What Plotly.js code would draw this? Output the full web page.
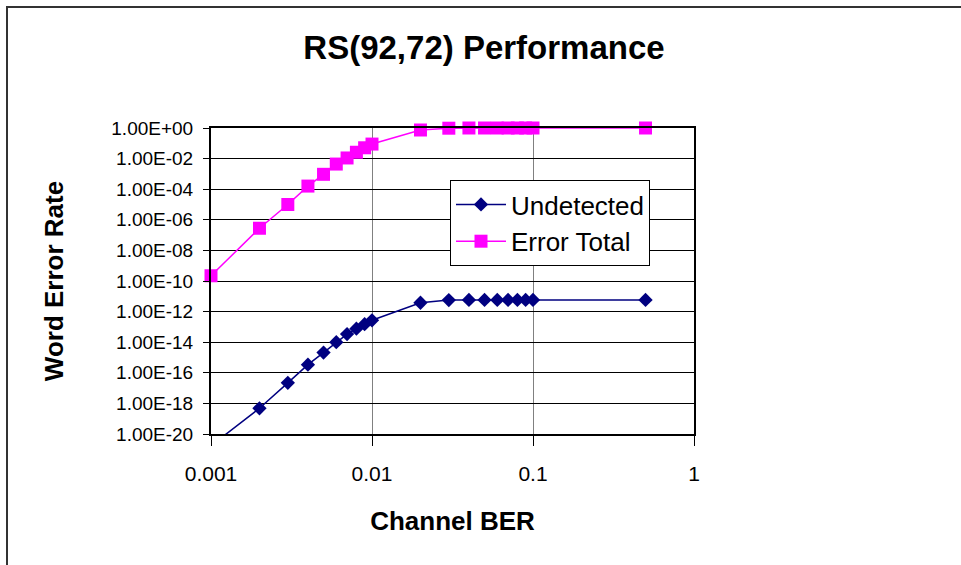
<!DOCTYPE html>
<html>
<head>
<meta charset="utf-8">
<script src="https://cdn.plot.ly/plotly-3.0.1.min.js"></script>
<style>
html,body{margin:0;padding:0;background:#fff;}
#chart{width:961px;height:565px;}
</style>
</head>
<body>
<div id="chart"></div>
<script>
var channelBER = [0.001, 0.002, 0.003, 0.004, 0.005, 0.006, 0.007, 0.008, 0.009, 0.01, 0.02, 0.03, 0.04, 0.05, 0.06, 0.07, 0.08, 0.09, 0.1, 0.5];
var undetected = [1.7e-21, 4.8e-19, 2.2e-17, 3.4e-16, 2.1e-15, 1.0e-14, 3.4e-14, 7.6e-14, 1.5e-13, 2.7e-13, 3.8e-12, 5.7e-12, 5.8e-12, 5.8e-12, 5.8e-12, 5.8e-12, 5.8e-12, 5.8e-12, 5.8e-12, 5.8e-12];
var errorTotal = [2.2e-10, 2.8e-7, 1.0e-5, 1.6e-4, 9.4e-4, 4.4e-3, 1.1e-2, 2.6e-2, 5.1e-2, 8.9e-2, 0.74, 0.97, 1, 1, 1, 1, 1, 1, 1, 1];
var yTickVals = [1e0, 1e-2, 1e-4, 1e-6, 1e-8, 1e-10, 1e-12, 1e-14, 1e-16, 1e-18, 1e-20];
var yTickText = ["1.00E+00", "1.00E-02", "1.00E-04", "1.00E-06", "1.00E-08", "1.00E-10", "1.00E-12", "1.00E-14", "1.00E-16", "1.00E-18", "1.00E-20"];
var xTickVals = [0.001, 0.01, 0.1, 1];
var xTickText = ["0.001", "0.01", "0.1", "1"];

var traces = [
  {x: channelBER, y: undetected, name: "Undetected", type: "scatter", mode: "lines+markers",
   line: {color: "#000080", width: 1.5}, marker: {symbol: "diamond", size: 11, color: "#000080"}},
  {x: channelBER, y: errorTotal, name: "Error Total", type: "scatter", mode: "lines+markers",
   line: {color: "#FF00FF", width: 1.5}, marker: {symbol: "square", size: 13, color: "#FF00FF"}, cliponaxis: false}
];

var L = 211, R = 267, T = 128, B = 131;
var pw = 961 - L - R, ph = 565 - T - B;
function px(xp){ return (xp - L) / pw; }
function py(yp){ return (565 - B - yp) / ph; }

var layout = {
  width: 961, height: 565,
  margin: {l: L, r: R, t: T, b: B},
  paper_bgcolor: "#fff", plot_bgcolor: "#fff",
  font: {family: "Arial, Liberation Sans, sans-serif", color: "#000", size: 19},
  title: {text: "<b>RS(92,72) Performance</b>", font: {size: 33, family: "Arial, Liberation Sans, sans-serif"},
          x: px(484), xref: "paper", xanchor: "center", y: 1 - 47/565, yanchor: "middle"},
  xaxis: {type: "log", range: [-3, 0], tickvals: xTickVals, ticktext: xTickText,
          showgrid: true, gridcolor: "#808080", gridwidth: 1,
          ticks: "outside", ticklen: 10, tickcolor: "#000", tickwidth: 1, ticklabelstandoff: 10,
          showline: true, linecolor: "#000", linewidth: 2, mirror: true,
          tickfont: {size: 21}, zeroline: false,
          title: {text: "<b>Channel BER</b>", font: {size: 26}, standoff: 28}},
  yaxis: {type: "log", range: [-20, 0], tickvals: yTickVals, ticktext: yTickText,
          showgrid: true, gridcolor: "#000", gridwidth: 1,
          ticks: "outside", ticklen: 6, tickcolor: "#000", tickwidth: 1, ticklabelstandoff: 6,
          showline: true, linecolor: "#000", linewidth: 2, mirror: true,
          tickfont: {size: 19}, zeroline: false,
          title: {text: "<b>Word Error Rate</b>", font: {size: 26}, standoff: 40}},
  legend: {x: px(450), y: py(180), xanchor: "left", yanchor: "top",
           bgcolor: "#fff", bordercolor: "#000", borderwidth: 1,
           font: {size: 26}, tracegroupgap: 0, itemwidth: 50},
  showlegend: true,
  shapes: [
    {type: "rect", xref: "paper", yref: "paper", x0: px(7), x1: px(1000), y0: py(600), y1: py(7),
     line: {color: "#333", width: 2}, fillcolor: "rgba(0,0,0,0)", layer: "below"}
  ]
};

Plotly.newPlot("chart", traces, layout, {displayModeBar: false, staticPlot: true});
</script>
</body>
</html>
